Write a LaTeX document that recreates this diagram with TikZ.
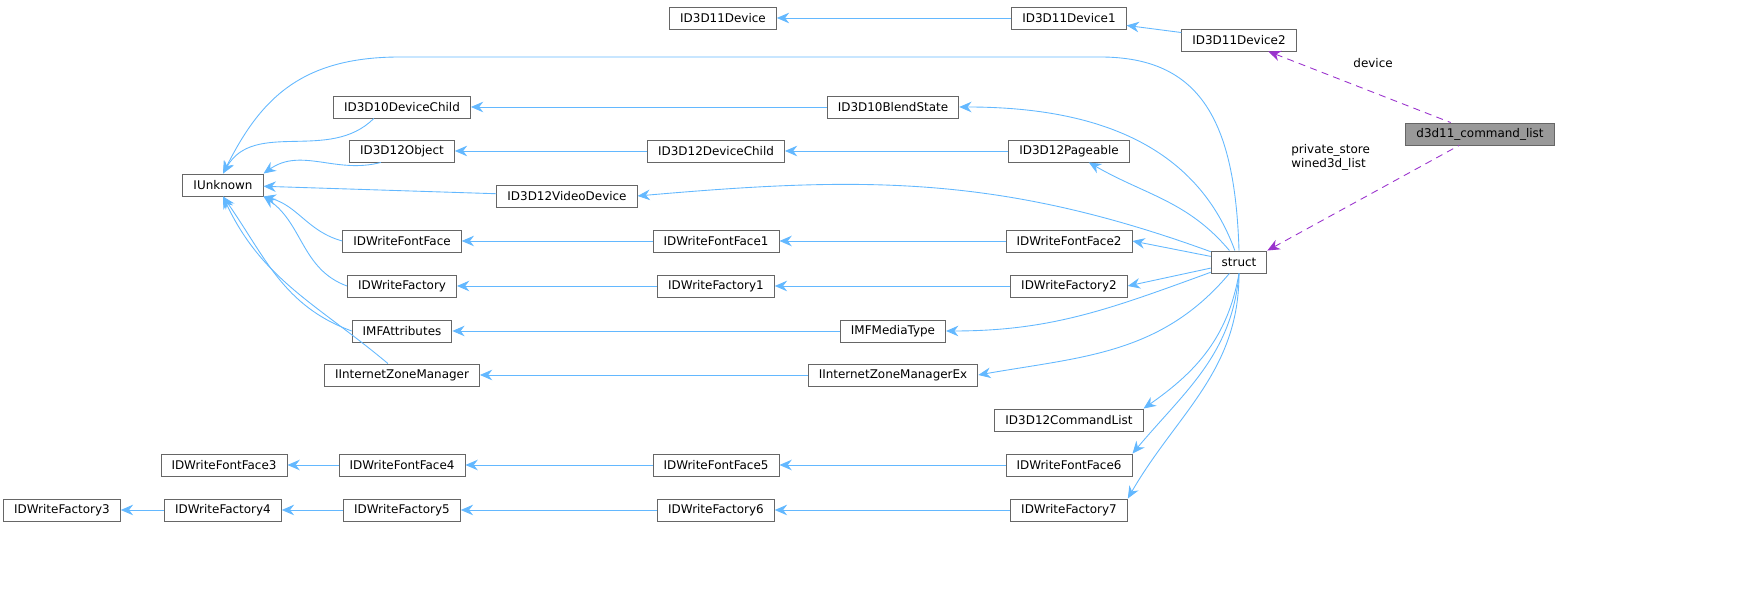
\documentclass[tikz,border=0pt]{standalone}
\usepackage{fontspec}
\setmainfont{DejaVu Sans}
\usetikzlibrary{arrows.meta}

\definecolor{edgeblue}{HTML}{63B8FF}
\definecolor{edgepurple}{HTML}{9A32CD}
\definecolor{boxgray}{HTML}{666666}

\begin{document}
\begin{tikzpicture}[x=0.01cm, y=-0.01cm, line width=0.25pt,
    cls/.style={draw=boxgray, fill=white, inner sep=0pt, minimum height=0.22cm,
        inner xsep=3pt, font=\fontsize{3.4}{4}\selectfont},
    inh/.style={draw=edgeblue, {Stealth[length=3.5pt,width=3pt]}-},
    use/.style={draw=edgepurple, dashed, dash pattern=on 2pt off 1.5pt, {Stealth[length=3.5pt,width=3pt]}-}]
    \useasboundingbox (0,0) rectangle (1749,589);
    % Classes
    \node[cls] (Dev) at (723,18) {ID3D11Device};
    \node[cls] (Dev1) at (1069,18) {ID3D11Device1};
    \node[cls] (Dev2) at (1239,40) {ID3D11Device2};
    \node[cls, fill=black!40] (List) at (1480,134) {d3d11\_command\_list};
    \node[cls] (Struct) at (1239,262) {struct};
    \node[cls] (Unknown) at (223,185) {IUnknown};
    \node[cls] (DevChild10) at (402,107) {ID3D10DeviceChild};
    \node[cls] (Blend) at (893,107) {ID3D10BlendState};
    \node[cls] (Object) at (402,151) {ID3D12Object};
    \node[cls] (DevChild12) at (716,151) {ID3D12DeviceChild};
    \node[cls] (Pageable) at (1069,151) {ID3D12Pageable};
    \node[cls] (Video) at (567,196) {ID3D12VideoDevice};
    \node[cls] (Face) at (402,241) {IDWriteFontFace};
    \node[cls] (Face1) at (716,241) {IDWriteFontFace1};
    \node[cls] (Face2) at (1069,241) {IDWriteFontFace2};
    \node[cls] (Fact) at (402,286) {IDWriteFactory};
    \node[cls] (Fact1) at (716,286) {IDWriteFactory1};
    \node[cls] (Fact2) at (1069,286) {IDWriteFactory2};
    \node[cls] (Attr) at (402,331) {IMFAttributes};
    \node[cls] (Media) at (893,331) {IMFMediaType};
    \node[cls] (Zone) at (402,375) {IInternetZoneManager};
    \node[cls] (ZoneEx) at (893,375) {IInternetZoneManagerEx};
    \node[cls] (Cmd) at (1069,420) {ID3D12CommandList};
    \node[cls] (Face3) at (224,465) {IDWriteFontFace3};
    \node[cls] (Face4) at (402,465) {IDWriteFontFace4};
    \node[cls] (Face5) at (716,465) {IDWriteFontFace5};
    \node[cls] (Face6) at (1069,465) {IDWriteFontFace6};
    \node[cls] (Fact3) at (62,510) {IDWriteFactory3};
    \node[cls] (Fact4) at (223,510) {IDWriteFactory4};
    \node[cls] (Fact5) at (402,510) {IDWriteFactory5};
    \node[cls] (Fact6) at (716,510) {IDWriteFactory6};
    \node[cls] (Fact7) at (1069,510) {IDWriteFactory7};

    % Straight inheritance
    \foreach \base/\derived in {Dev/Dev1, DevChild10/Blend, Object/DevChild12,
            DevChild12/Pageable, Face/Face1, Face1/Face2, Fact/Fact1, Fact1/Fact2,
            Attr/Media, Zone/ZoneEx, Face3/Face4, Face4/Face5, Face5/Face6,
            Fact3/Fact4, Fact4/Fact5, Fact5/Fact6, Fact6/Fact7} {
            \draw[inh] (\base) -- (\derived);
        }
    \draw[inh] (Dev1) -- (Dev2);

    % From IUnknown
    \draw[inh] (Unknown.north) to[out=60, in=225] ([xshift=-8pt]DevChild10.south);
    \draw[inh] (Unknown.north east) to[out=35, in=195] ([xshift=-6pt]Object.south);
    \draw[inh] (Unknown) -- (Video);
    \draw[inh] (Unknown.south east) to[out=-15, in=165] (Face.west);
    \draw[inh] (Unknown.south east) to[out=-35, in=160] (Fact.west);
    \draw[inh] (Unknown.south) to[out=-55, in=160] (Attr.west);
    \draw[inh] (Unknown.south) to[out=-65, in=140] ([xshift=-4pt]Zone.north);
    \draw[inh] (Unknown.north) .. controls (260,100) and (300,57) .. (400,57)
        -- (1100,57) .. controls (1200,57) and (1235,120) .. (Struct.north);

    % To struct
    \draw[inh] (Blend.east) to[out=0, in=110] (Struct);
    \draw[inh] (Pageable) to[out=-30, in=130] (Struct);
    \draw[inh] (Video.east) to[out=5, in=160] (Struct);
    \draw[inh] (Face2.east) -- (Struct);
    \draw[inh] (Fact2.east) -- (Struct);
    \draw[inh] (Media.east) to[out=0, in=200] (Struct);
    \draw[inh] (ZoneEx.east) to[out=10, in=230] (Struct);
    \draw[inh] (Cmd.north east) to[out=35, in=260] (Struct.south);
    \draw[inh] (Face6.north east) to[out=50, in=265] (Struct.south);
    \draw[inh] (Fact7.north east) to[out=60, in=270] (Struct.south);

    % Members
    \draw[use] (Dev2) -- node[pos=0.4, above right, font=\fontsize{3.4}{4}\selectfont, text=black] {device} (List);
    \draw[use] (Struct.north east) -- node[pos=0.55, above, font=\fontsize{3.4}{4}\selectfont, text=black, align=left, xshift=-12pt, yshift=3pt] {private\_store\\wined3d\_list} (List);
\end{tikzpicture}
\end{document}
